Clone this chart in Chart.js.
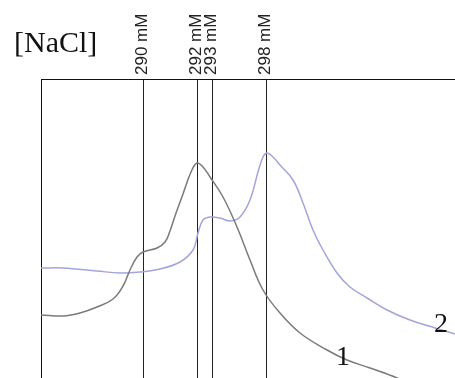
<!DOCTYPE html>
<html>
<head>
<meta charset="utf-8">
<script src="https://cdn.jsdelivr.net/npm/chart.js@4"></script>
<style>
  html, body { margin: 0; padding: 0; background: #fff; }
  #wrap { width: 455px; height: 378px; }
</style>
</head>
<body>
<div id="wrap"><canvas id="my_chart"></canvas></div>
<script>
// elution position (arbitrary units) and absorbance (arbitrary units)
const x1 = [0, 22, 39, 56, 72, 82, 89, 96, 102, 116, 124, 129, 134, 142, 150, 156, 162, 169, 182, 196, 209, 222, 239, 259, 286, 306, 329, 356, 414];
const y1 = [63, 62, 65, 71, 79, 92, 108, 121, 126, 130, 136, 147, 162, 184, 206, 215, 211, 201, 181, 151, 118, 88, 65, 45, 28, 18, 10, 0, -27];

const x2 = [0, 22, 56, 79, 99, 119, 139, 152, 157, 162, 169, 179, 189, 199, 209, 217, 222, 226, 232, 239, 252, 262, 272, 282, 296, 309, 326, 346, 369, 394, 414];
const y2 = [110, 110, 107, 105, 106, 109, 116, 128, 145, 158, 161, 160, 157, 161, 178, 206, 221, 225, 221, 213, 198, 175, 148, 128, 105, 91, 80, 68, 58, 50, 44];

// salt concentration markers
const markerPos = [102, 156, 171, 225];
const markerLabels = ['290 mM', '292 mM', '293 mM', '298 mM'];

function toPoints(xs, ys) {
  return xs.map((x, i) => ({x: x, y: ys[i]}));
}

// marker labels, curve numbers and the [NaCl] title
const textPlugin = {
  id: 'texts',
  afterDraw(chart) {
    const ctx = chart.ctx;
    const xs = chart.scales.x;
    const ys = chart.scales.y;
    ctx.save();
    ctx.fillStyle = '#222';
    ctx.font = '17px "Liberation Sans", Arial, sans-serif';
    ctx.textAlign = 'left';
    ctx.textBaseline = 'middle';
    markerPos.forEach((m, i) => {
      const px = xs.getPixelForValue(m);
      ctx.save();
      ctx.translate(px - 1, chart.chartArea.top - 4);
      ctx.rotate(-Math.PI / 2);
      ctx.fillText(markerLabels[i], 0, 0);
      ctx.restore();
    });

    ctx.fillStyle = '#111';
    ctx.font = '30px "Liberation Serif", "Times New Roman", serif';
    ctx.textBaseline = 'alphabetic';
    ctx.fillText('[NaCl]', 14, 52);

    ctx.font = '28px "Liberation Serif", "Times New Roman", serif';
    ctx.textAlign = 'center';
    ctx.fillText('1', xs.getPixelForValue(302), ys.getPixelForValue(13));
    ctx.fillText('2', xs.getPixelForValue(400), ys.getPixelForValue(46));
    ctx.restore();
  }
};

const myChart = document.getElementById('my_chart');

new Chart(myChart, {
  type: 'line',
  data: {
    datasets: [
      {
        data: toPoints(x1, y1),
        borderColor: '#7a7a7a',
        borderWidth: 1.5,
        pointRadius: 0,
        tension: 0.4
      },
      {
        data: toPoints(x2, y2),
        borderColor: '#a4a4dc',
        borderWidth: 1.5,
        pointRadius: 0,
        tension: 0.4
      }
    ]
  },
  options: {
    responsive: true,
    maintainAspectRatio: false,
    animation: false,
    events: [],
    layout: { padding: { left: 41, top: 79, right: 0, bottom: 0 } },
    plugins: { legend: { display: false }, tooltip: { enabled: false } },
    scales: {
      x: {
        type: 'linear',
        position: 'top',
        min: 0,
        max: 414,
        afterBuildTicks: (axis) => {
          axis.ticks = markerPos.map(v => ({value: v}));
        },
        ticks: { display: false },
        grid: { color: '#222', lineWidth: 1, drawTicks: false },
        border: { display: true, color: '#111', width: 1 }
      },
      y: {
        min: 0,
        max: 299,
        ticks: { display: false },
        grid: { display: false, drawTicks: false },
        border: { display: true, color: '#111', width: 1 }
      }
    }
  },
  plugins: [textPlugin]
});
</script>
</body>
</html>
